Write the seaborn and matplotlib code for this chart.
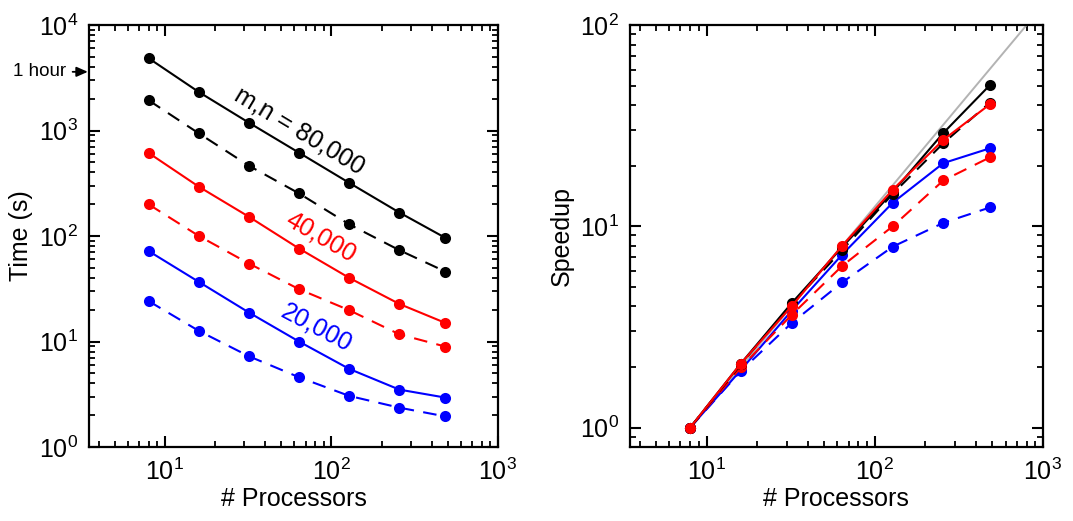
import matplotlib
matplotlib.use("Agg")
import matplotlib.pyplot as plt
import seaborn as sns
import pandas as pd
from matplotlib.ticker import LogLocator, NullFormatter

processors = [8, 16, 32, 64, 128, 256, 484]

# Time (s)
time_80k_solid = [4830, 2313, 1184, 615, 319, 167, 96]
time_80k_dashed = [1929, 938, 463, 253, 129, 73.4, 46]
time_40k_solid = [611, 293, 152, 76, 40.1, 22.7, 15.0]
time_40k_dashed = [199, 100, 54.8, 31.3, 19.8, 11.7, 8.95]
time_20k_solid = [71.8, 36.7, 18.8, 9.98, 5.5, 3.5, 2.94]
time_20k_dashed = [24.1, 12.6, 7.24, 4.58, 3.05, 2.36, 1.95]

# Speedup
speed_80k_solid = [1, 2.08, 4.14, 7.87, 14.8, 29.1, 50.3]
speed_80k_dashed = [1, 2.06, 4.1, 7.6, 14.5, 25.9, 41.2]
speed_40k_solid = [1, 2.08, 4.0, 8.0, 15.2, 26.9, 40.4]
speed_40k_dashed = [1, 1.99, 3.62, 6.35, 10.0, 16.9, 22.0]
speed_20k_solid = [1, 1.93, 3.8, 7.23, 13.1, 20.6, 24.4]
speed_20k_dashed = [1, 1.91, 3.30, 5.26, 7.92, 10.4, 12.4]

ideal_x = [8, 1000]
ideal_y = [1, 125]

size_labels = ["m,n = 80,000", "40,000", "20,000"]
colors = ["black", "red", "blue"]

sns.set_style("ticks")
plt.rcParams["font.family"] = ["Liberation Sans", "DejaVu Sans"]
plt.rcParams["mathtext.fontset"] = "custom"
plt.rcParams["mathtext.rm"] = "Liberation Sans"
plt.rcParams["mathtext.it"] = "Liberation Sans:italic"
plt.rcParams["axes.linewidth"] = 1.6
plt.rcParams["xtick.direction"] = "in"
plt.rcParams["ytick.direction"] = "in"
plt.rcParams["xtick.top"] = True
plt.rcParams["ytick.right"] = True
for key in ["text.color", "axes.labelcolor", "xtick.color", "ytick.color",
            "axes.edgecolor", "xtick.labelcolor", "ytick.labelcolor"]:
    plt.rcParams[key] = "black"

fig = plt.figure(figsize=(10.73, 5.21), dpi=100)
ax1 = fig.add_axes([0.083, 0.142, 0.381, 0.810])
ax2 = fig.add_axes([0.587, 0.142, 0.385, 0.810])

time_series = [
    (time_80k_solid, "black", "solid"), (time_80k_dashed, "black", "dashed"),
    (time_40k_solid, "red", "solid"), (time_40k_dashed, "red", "dashed"),
    (time_20k_solid, "blue", "solid"), (time_20k_dashed, "blue", "dashed"),
]
speed_series = [
    (speed_20k_dashed, "blue", "dashed"), (speed_20k_solid, "blue", "solid"),
    (speed_40k_dashed, "red", "dashed"), (speed_80k_dashed, "black", "dashed"),
    (speed_80k_solid, "black", "solid"), (speed_40k_solid, "red", "solid"),
]

def draw(ax, series):
    for vals, col, sty in series:
        df = pd.DataFrame({"p": processors, "v": vals})
        ls = "-" if sty == "solid" else (0, (6.5, 4.5))
        sns.lineplot(data=df, x="p", y="v", ax=ax, color=col, linestyle=ls,
                     lw=1.5, marker="o", markersize=8, markeredgewidth=0)

sns.lineplot(x=ideal_x, y=ideal_y, ax=ax2, color="#b3b3b3", lw=1.4)
draw(ax1, time_series)
draw(ax2, speed_series)

for ax in (ax1, ax2):
    ax.set_xscale("log")
    ax.set_yscale("log")
    ax.set_xlim(3.5, 1000)
    ax.xaxis.set_major_locator(LogLocator(base=10, numticks=10))
    ax.xaxis.set_minor_locator(LogLocator(base=10, subs=range(2, 10), numticks=20))
    ax.yaxis.set_minor_locator(LogLocator(base=10, subs=range(2, 10), numticks=20))
    ax.xaxis.set_minor_formatter(NullFormatter())
    ax.yaxis.set_minor_formatter(NullFormatter())
    ax.tick_params(which="major", length=8, width=1.5, labelsize=18, pad=8)
    ax.tick_params(which="minor", length=4.5, width=1.3)
    ax.set_xlabel("# Processors", fontsize=18, labelpad=2)
    for s in ax.spines.values():
        s.set_visible(True)
        s.set_linewidth(1.6)

ax1.set_ylim(1, 1e4)
ax2.set_ylim(0.8, 100)
ax1.set_ylabel("Time (s)", fontsize=18, labelpad=4)
ax2.set_ylabel("Speedup", fontsize=18, labelpad=4)

ax1.text(64, 1000, size_labels[0], color=colors[0], fontsize=18,
         rotation=-31, ha="center", va="center", rotation_mode="anchor")
ax1.text(86, 97, size_labels[1], color=colors[1], fontsize=18,
         rotation=-30, ha="center", va="center", rotation_mode="anchor")
ax1.text(81.5, 13.6, size_labels[2], color=colors[2], fontsize=18,
         rotation=-28, ha="center", va="center", rotation_mode="anchor")

ax1.annotate("1 hour", xy=(-0.003, 3600), xycoords=("axes fraction", "data"),
             xytext=(-0.055, 3600), textcoords=("axes fraction", "data"),
             ha="right", va="center", fontsize=13.5,
             arrowprops=dict(arrowstyle="-|>,head_length=0.5,head_width=0.22",
                             color="black", lw=1.3, shrinkA=2, shrinkB=0))

fig.savefig("out.png", dpi=100)
